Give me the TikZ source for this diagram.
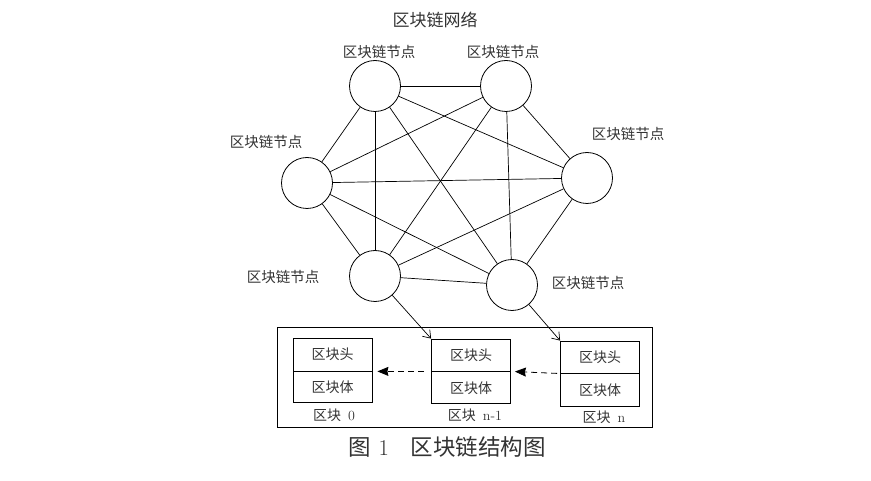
\documentclass[tikz,border=0pt]{standalone}
\usepackage{fontspec}
\newfontfamily\cjk{Noto Sans CJK SC}
\usetikzlibrary{arrows.meta}
\tikzset{
  peer/.style={circle, draw, line width=0.8pt, minimum size=51pt, inner sep=0pt},
  peerlabel/.style={font=\cjk\fontsize{14.5}{16}\selectfont, inner sep=0pt, text=black!80},
  cell/.style={draw, line width=0.8pt, minimum width=79pt, minimum height=32pt, inner sep=0pt, font=\cjk\fontsize{14}{16}\selectfont, text=black!80},
  blabel/.style={font=\cjk\fontsize{14}{16}\selectfont, inner sep=0pt, text=black!80},
  link/.style={line width=0.7pt},
  chain/.style={line width=0.8pt, dash pattern=on 6pt off 4pt, -{Stealth[length=11pt,width=9pt,inset=1pt]}},
  feed/.style={line width=0.7pt, -{Straight Barb[length=7pt,width=10pt]}}
}
\begin{document}
\begin{tikzpicture}[x=1pt,y=-1pt]
\useasboundingbox (0,0) rectangle (871,481);
% network title
\node[font=\cjk\fontsize{17}{19}\selectfont, inner sep=0pt, text=black!80] (title) at (435,20) {区块链网络};
% peers
\node[peer] (A) at (375,86) {};
\node[peer] (B) at (506,86) {};
\node[peer] (C) at (307,183) {};
\node[peer] (D) at (587,178) {};
\node[peer] (E) at (375,276) {};
\node[peer] (F) at (512,285) {};
% peer labels
\node[peerlabel] (lA) at (379,52) {区块链节点};
\node[peerlabel] (lB) at (503,52) {区块链节点};
\node[peerlabel] (lC) at (266,142) {区块链节点};
\node[peerlabel] (lD) at (628,134) {区块链节点};
\node[peerlabel] (lE) at (283,277) {区块链节点};
\node[peerlabel] (lF) at (588,283) {区块链节点};
% complete graph
\foreach \u/\v in {A/B,A/C,A/D,A/E,A/F,B/C,B/D,B/E,B/F,C/D,C/E,C/F,D/E,D/F,E/F}
  \draw[link] (\u) -- (\v);
% outer box
\node[draw, line width=0.9pt, minimum width=375pt, minimum height=100pt, inner sep=0pt] (outer) at (464.5,377) {};
% blocks
\node[cell, minimum height=33pt] (h0) at (332.5,354.5) {区块头};
\node[cell, minimum height=31pt, anchor=north] (b0) at (h0.south) {区块体};
\node[cell, minimum height=32pt] (h1) at (471,355) {区块头};
\node[cell, minimum height=32pt, anchor=north] (b1) at (h1.south) {区块体};
\node[cell, minimum height=32pt] (h2) at (600,357) {区块头};
\node[cell, minimum height=33pt, anchor=north] (b2) at (h2.south) {区块体};
% block labels
\node[blabel] (n0) at (334,415) {区块\hspace{7pt}{\rmfamily 0}};
\node[blabel] (n1) at (475,415) {区块\hspace{7pt}{\rmfamily n-1}};
\node[blabel] (n2) at (604,417) {区块\hspace{7pt}{\rmfamily n}};
% chain arrows
\draw[chain, shorten >=5pt] ([xshift=-7pt]h1.south west) -- (h0.south east);
\draw[chain, shorten >=4pt] ([xshift=-3pt]h2.south west) -- (h1.south east);
% feeds
\draw[feed] (E) -- (h1.north west);
\draw[feed] (F) -- (h2.north west);
% caption
\node[font=\cjk\fontsize{22.5}{26}\selectfont, inner sep=0pt, text=black!80] (cap) at (447,447) {图\hspace{8pt}{\rmfamily 1}\hspace{22pt}区块链结构图};
\end{tikzpicture}
\end{document}
